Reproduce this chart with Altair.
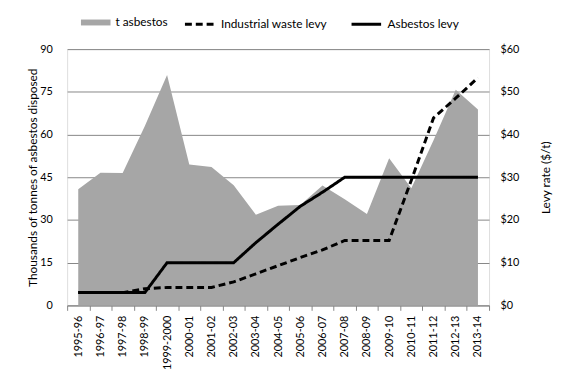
import altair as alt
import pandas as pd

years = ["1995-96", "1996-97", "1997-98", "1998-99", "1999-2000", "2000-01", "2001-02",
         "2002-03", "2003-04", "2004-05", "2005-06", "2006-07", "2007-08", "2008-09",
         "2009-10", "2010-11", "2011-12", "2012-13", "2013-14"]
asbestos_t = [40.8, 46.6, 46.5, 63.0, 80.9, 49.5, 48.6, 42.2, 31.8, 35.0, 35.3, 42.1,
              37.3, 32.1, 51.7, 41.1, 58.0, 75.7, 68.8]
industrial_levy = [3.0, 3.0, 3.0, 3.9, 4.2, 4.2, 4.2, 5.5, 7.4, 9.3, 11.2, 13.0, 15.2,
                   15.2, 15.2, 29.3, 43.9, 48.5, 53.3]
asbestos_levy = [3.0, 3.0, 3.0, 3.0, 10.0, 10.0, 10.0, 10.0, 14.7, 19.0, 23.2, 26.5, 30.0,
                 30.0, 30.0, 30.0, 30.0, 30.0, 30.0]
area_name = ["t asbestos"]
line_names = ["Industrial waste levy", "Asbestos levy"]
left_ticks = [0, 15, 30, 45, 60, 75, 90]
right_ticks = [0, 10, 20, 30, 40, 50, 60]

df = pd.DataFrame({"year": years, "tons": asbestos_t,
                   "ind": industrial_levy, "asb": asbestos_levy})

FONT = "Lato"
GRID = "#868686"

fill_scale = alt.Scale(domain=area_name, range=["#a6a6a6"])
dash_scale = alt.Scale(domain=line_names, range=[[7, 4], [1, 0]])

fill_legend = alt.Legend(
    title=None, orient="none", direction="horizontal", legendX=14, legendY=-42,
    labelFont=FONT, labelFontSize=12, labelColor="#000000", labelOffset=5,
    symbolSize=900, symbolType="M-1,-0.2H1V0.2H-1Z", symbolStrokeWidth=0,
)
dash_legend = alt.Legend(
    title=None, orient="none", direction="horizontal", legendX=118, legendY=-42,
    labelFont=FONT, labelFontSize=12, labelColor="#000000", labelOffset=5,
    columnPadding=18, symbolSize=900, symbolType="stroke",
    symbolStrokeColor="#000000", symbolStrokeWidth=3,
)

x_enc = alt.X("year:N", sort=years,
              scale=alt.Scale(type="band", paddingInner=0, paddingOuter=0),
              axis=alt.Axis(title=None, labelAngle=270, labelAlign="right", labelBaseline="middle",
                            tickBand="extent", tickSize=5, tickColor=GRID, domainColor=GRID,
                            labelPadding=5, grid=False, labelFont=FONT, labelFontSize=11,
                            labelColor="#000000"))

base = alt.Chart(df)

area = base.mark_area(opacity=1).encode(
    x=x_enc,
    y=alt.Y("tons:Q", scale=alt.Scale(domain=[0, 90], nice=False),
            axis=alt.Axis(values=left_ticks, title="Thousands of tonnes of asbestos disposed",
                          grid=True, gridColor=GRID, domain=False, ticks=False,
                          labelPadding=15, titlePadding=0, labelFont=FONT, labelFontSize=11,
                          labelColor="#000000", titleFont=FONT, titleFontSize=12,
                          titleFontWeight="normal", titleColor="#000000")),
    fill=alt.Fill("s:N", scale=fill_scale, legend=fill_legend),
).transform_calculate(s="'t asbestos'")

right_axis = alt.Axis(orient="right", values=right_ticks, labelExpr="'$' + datum.value",
                      title="Levy rate ($/t)", grid=False, domain=False, ticks=False,
                      labelPadding=11, titlePadding=34, titleAngle=270,
                      labelFont=FONT, labelFontSize=11, labelColor="#000000",
                      titleFont=FONT, titleFontSize=12, titleFontWeight="normal",
                      titleColor="#000000", labelAlign="left")
y_right = alt.Scale(domain=[0, 60], nice=False)

dashed = base.mark_line(strokeWidth=3, color="#000000").encode(
    x=x_enc,
    y=alt.Y("ind:Q", scale=y_right, axis=right_axis),
    strokeDash=alt.StrokeDash("s:N", scale=dash_scale, legend=dash_legend),
).transform_calculate(s="'Industrial waste levy'")

solid = base.mark_line(strokeWidth=3, color="#000000").encode(
    x=x_enc,
    y=alt.Y("asb:Q", scale=y_right, axis=right_axis),
    strokeDash=alt.StrokeDash("s:N", scale=dash_scale, legend=dash_legend),
).transform_calculate(s="'Asbestos levy'")

chart = alt.layer(area, alt.layer(dashed, solid)).resolve_scale(y="independent").properties(
    width=428, height=260,
    autosize=alt.AutoSizeParams(type="none"),
    padding={"left": 60, "top": 39, "right": 74, "bottom": 75},
).configure_view(stroke=None).configure(background="white")

chart.save("out.html", embed_options={"renderer": "svg", "actions": False})
